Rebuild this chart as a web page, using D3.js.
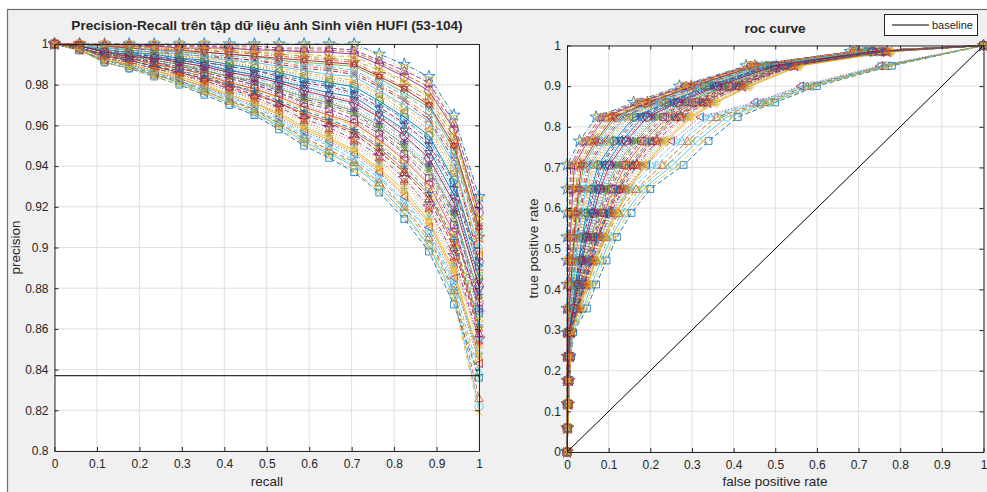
<!DOCTYPE html>
<html>
<head>
<meta charset="utf-8">
<script src="https://cdn.jsdelivr.net/npm/d3@7"></script>
<style>
  body { margin: 0; background: #ffffff; }
  svg { display: block; }
  text { font-family: "Liberation Sans", Arial, Helvetica, sans-serif; fill: #262626; }
</style>
</head>
<body>
<svg id="fig" width="987" height="492"></svg>
<script>
// Recall levels shared by every precision-recall curve (k / 17)
const recallLevels = [0, 0.059, 0.118, 0.176, 0.235, 0.294, 0.353, 0.412, 0.471, 0.529, 0.588, 0.647, 0.706, 0.765, 0.824, 0.882, 0.941, 1];

// Precision per class (classes 53..104), one row per class, aligned with recallLevels
const precision = [
  [1,.999,.997,.996,.995,.993,.992,.990,.988,.986,.983,.981,.979,.972,.964,.955,.933,.893],
  [1,1,.999,.999,.999,.999,.999,.998,.998,.997,.997,.997,.996,.991,.985,.979,.959,.912],
  [1,.998,.993,.991,.988,.984,.981,.977,.973,.967,.961,.956,.951,.942,.931,.917,.892,.851],
  [1,.998,.995,.994,.991,.989,.987,.984,.981,.977,.973,.970,.966,.958,.949,.938,.915,.874],
  [1,.999,.998,.998,.997,.996,.996,.995,.994,.992,.991,.990,.989,.983,.976,.969,.948,.908],
  [1,.997,.992,.989,.986,.982,.978,.973,.968,.962,.955,.950,.943,.934,.922,.907,.881,.839],
  [1,.999,.996,.995,.993,.991,.989,.987,.985,.982,.978,.975,.972,.965,.957,.946,.924,.883],
  [1,1,1,1,1,1,1,1,1,1,1,1,1,.995,.990,.984,.965,.925],
  [1,.998,.994,.992,.989,.986,.983,.980,.976,.971,.966,.962,.957,.949,.938,.926,.902,.860],
  [1,.999,.997,.997,.996,.994,.993,.992,.990,.988,.986,.984,.982,.976,.969,.960,.939,.898],
  [1,.998,.995,.993,.990,.988,.985,.982,.979,.975,.970,.966,.962,.954,.944,.932,.909,.868],
  [1,1,.999,.999,.998,.998,.997,.996,.996,.995,.994,.993,.992,.987,.981,.974,.954,.914],
  [1,.997,.991,.988,.985,.981,.976,.971,.966,.960,.952,.946,.940,.930,.917,.901,.876,.822],
  [1,.999,.997,.995,.994,.992,.991,.989,.987,.984,.981,.979,.976,.969,.961,.951,.930,.889],
  [1,.998,.995,.993,.991,.989,.987,.984,.981,.978,.974,.971,.967,.959,.951,.940,.917,.870],
  [1,.999,.998,.997,.996,.996,.995,.993,.992,.991,.989,.988,.986,.980,.973,.965,.945,.904],
  [1,.997,.992,.990,.987,.983,.979,.975,.971,.965,.958,.953,.947,.938,.926,.912,.887,.845],
  [1,1,1,1,.999,.999,.999,.999,.999,.998,.998,.998,.997,.992,.987,.981,.961,.921],
  [1,.998,.994,.991,.988,.986,.982,.978,.975,.970,.964,.960,.955,.946,.935,.922,.898,.866],
  [1,.999,.996,.994,.992,.990,.988,.986,.983,.980,.976,.973,.970,.962,.954,.943,.920,.868],
  [1,1,.999,.998,.997,.997,.996,.995,.994,.993,.992,.991,.990,.984,.978,.970,.950,.910],
  [1,.997,.991,.988,.984,.980,.975,.970,.965,.958,.950,.944,.937,.927,.914,.898,.872,.836],
  [1,.999,.997,.996,.995,.994,.993,.991,.989,.987,.985,.983,.981,.975,.967,.958,.937,.896],
  [1,.998,.994,.992,.990,.987,.984,.981,.978,.973,.968,.964,.960,.951,.941,.929,.905,.864],
  [1,1,.999,.999,.999,.998,.998,.998,.997,.997,.996,.996,.995,.990,.984,.977,.958,.917],
  [1,.998,.995,.993,.991,.989,.986,.983,.980,.976,.972,.969,.965,.957,.947,.936,.913,.861],
  [1,.998,.993,.990,.987,.984,.980,.976,.972,.966,.960,.955,.950,.941,.929,.915,.891,.855],
  [1,.999,.998,.997,.996,.995,.994,.993,.992,.990,.988,.987,.985,.979,.972,.963,.943,.893],
  [1,.999,.996,.995,.993,.992,.990,.987,.985,.982,.979,.976,.974,.966,.958,.948,.926,.885],
  [1,.997,.992,.989,.985,.982,.977,.972,.968,.961,.954,.948,.942,.932,.920,.905,.879,.826],
  [1,1,1,1,1,1,1,.999,.999,.999,.999,.999,.999,.994,.988,.982,.963,.923],
  [1,.998,.993,.991,.988,.985,.982,.978,.974,.969,.963,.959,.953,.945,.934,.920,.896,.855],
  [1,.998,.995,.994,.992,.990,.987,.984,.982,.978,.974,.971,.967,.960,.950,.939,.917,.876],
  [1,.999,.998,.998,.997,.996,.995,.994,.993,.992,.990,.989,.987,.981,.975,.967,.946,.906],
  [1,.997,.992,.990,.986,.983,.979,.974,.970,.964,.957,.952,.946,.937,.925,.910,.885,.843],
  [1,.999,.997,.996,.994,.993,.991,.989,.987,.985,.982,.980,.977,.971,.963,.953,.932,.891],
  [1,.998,.994,.993,.990,.988,.985,.981,.978,.974,.969,.965,.961,.953,.943,.931,.907,.873],
  [1,1,.999,.999,.998,.998,.998,.997,.996,.996,.995,.994,.994,.988,.982,.975,.956,.915],
  [1,.998,.995,.994,.992,.990,.988,.985,.982,.979,.975,.972,.968,.961,.952,.941,.918,.877],
  [1,.997,.992,.989,.985,.981,.977,.972,.967,.961,.953,.947,.941,.931,.919,.903,.878,.836],
  [1,.999,.998,.997,.996,.995,.994,.992,.991,.989,.987,.985,.984,.977,.970,.962,.941,.900],
  [1,.998,.994,.992,.989,.986,.983,.979,.975,.971,.965,.961,.956,.947,.937,.924,.900,.858],
  [1,.999,.996,.995,.994,.992,.990,.988,.986,.983,.980,.978,.975,.968,.960,.950,.928,.879],
  [1,1,.999,.998,.998,.997,.997,.996,.995,.994,.993,.992,.991,.985,.979,.972,.952,.905],
  [1,.998,.993,.990,.987,.984,.980,.975,.971,.966,.959,.954,.948,.939,.928,.913,.889,.847],
  [1,.998,.995,.993,.991,.988,.986,.983,.980,.976,.971,.968,.963,.956,.946,.934,.911,.870],
  [1,.999,.997,.996,.995,.994,.992,.990,.989,.987,.984,.982,.980,.973,.966,.956,.935,.886],
  [1,.997,.992,.989,.986,.982,.978,.974,.969,.963,.956,.951,.945,.935,.923,.908,.883,.848],
  [1,.999,.996,.994,.993,.991,.989,.986,.984,.981,.977,.974,.971,.964,.955,.944,.922,.881],
  [1,.998,.994,.992,.989,.987,.984,.980,.977,.972,.967,.963,.958,.950,.940,.927,.904,.862],
  [1,.998,.993,.991,.988,.985,.981,.977,.973,.968,.962,.957,.952,.943,.932,.919,.894,.853],
  [1,.997,.991,.988,.984,.980,.976,.971,.966,.959,.951,.945,.938,.928,.916,.900,.874,.819]
];

// True positive rate levels at which the ROC points were taken
const tprLevels = [0, 0.059, 0.118, 0.176, 0.235, 0.294, 0.353, 0.412, 0.471, 0.529, 0.588, 0.647, 0.706, 0.765, 0.824, 0.86, 0.9, 0.95, 0.985, 1];

// False positive rate per class at each level (null = no point at that level)
const fpr = [
  [0,.001,.002,.002,.003,.004,.012,.020,.028,.036,.047,.059,.075,.113,.161,.239,.337,.481,.720,1],
  [0,0,0,0,.001,.001,.002,.004,.005,.006,.008,.011,.013,.045,.086,.174,.282,.439,.687,1],
  [0,.002,.004,.006,.007,.009,.028,.047,.065,.084,.112,.140,.177,.225,.284,.346,.428,.551,.773,1],
  [0,.001,.003,.004,.005,.007,.020,.033,.046,.059,.078,.098,.124,.167,.220,.290,.381,.515,.745,1],
  [0,0,.001,.001,.002,.002,.006,.010,.015,.019,.025,.031,.040,.074,.118,.202,.306,.457,.701,1],
  [0,.001,.003,.005,.007,.010,.024,.041,.063,.088,.116,.157,.216,.276,.346,.464,.571,.759,null,1],
  [0,.001,.002,.003,.004,.005,.015,.026,.036,.046,.061,.077,.097,.138,.188,.262,.357,.497,.731,1],
  [0,0,0,0,0,0,0,0,0,0,0,0,0,.030,.070,.160,.270,.430,.680,1],
  [0,.002,.003,.005,.007,.008,.024,.041,.057,.073,.098,.122,.155,.201,.257,.323,.408,.536,.761,1],
  [0,.001,.001,.002,.003,.003,.010,.016,.023,.029,.039,.049,.062,.098,.145,.225,.325,.472,.713,1],
  [0,.001,.003,.004,.006,.007,.022,.036,.050,.065,.087,.108,.137,.181,.236,.304,.393,.524,.752,1],
  [0,0,.001,.001,.001,.001,.004,.007,.010,.013,.017,.021,.027,.059,.102,.188,.294,.448,.694,1],
  [0,.001,.003,.005,.009,.013,.039,.059,.082,.107,.139,.183,.254,.314,.384,.486,.589,.771,null,1],
  [0,.001,.002,.003,.004,.004,.013,.022,.031,.040,.053,.066,.084,.123,.172,.248,.345,.487,.724,1],
  [0,.001,.002,.004,.005,.006,.018,.030,.042,.054,.073,.091,.115,.157,.209,.281,.373,.509,.741,1],
  [0,.001,.001,.002,.002,.003,.008,.013,.018,.023,.031,.038,.049,.084,.129,.211,.314,.463,.706,1],
  [0,.002,.004,.006,.008,.010,.030,.050,.070,.090,.120,.150,.190,.240,.300,.360,.440,.560,.780,1],
  [0,0,0,0,0,0,.001,.002,.003,.004,.006,.007,.009,.040,.081,.169,.278,.436,.685,1],
  [0,.002,.003,.005,.007,.009,.026,.043,.060,.077,.103,.129,.163,.211,.268,.332,.416,.542,.766,1],
  [0,.001,.002,.003,.004,.006,.017,.028,.039,.050,.067,.084,.106,.147,.198,.272,.365,.503,.736,1],
  [0,0,.001,.001,.001,.002,.006,.009,.013,.017,.022,.028,.035,.069,.113,.197,.302,.454,.699,1],
  [0,.002,.004,.006,.010,.015,.048,.070,.095,.120,.155,.200,.280,.340,.410,.500,.600,.780,null,1],
  [0,.001,.001,.002,.003,.003,.010,.017,.024,.031,.042,.052,.066,.103,.150,.230,.329,.475,.715,1],
  [0,.002,.003,.005,.006,.008,.023,.038,.054,.069,.092,.115,.146,.191,.246,.313,.400,.530,.757,1],
  [0,0,0,.001,.001,.001,.003,.005,.007,.008,.011,.014,.018,.050,.091,.179,.286,.442,.689,1],
  [0,.001,.003,.004,.005,.007,.020,.034,.047,.061,.081,.101,.128,.172,.225,.295,.385,.518,.747,1],
  [0,.002,.004,.006,.008,.010,.029,.048,.067,.086,.114,.143,.181,.230,.289,.351,.432,.554,.775,1],
  [0,.001,.001,.002,.002,.003,.008,.014,.020,.025,.033,.042,.053,.089,.134,.216,.317,.466,.708,1],
  [0,.001,.002,.003,.004,.005,.015,.024,.034,.044,.059,.073,.093,.132,.182,.258,.353,.493,.729,1],
  [0,.001,.003,.005,.008,.011,.029,.047,.069,.094,.124,.166,.229,.289,.359,.471,.577,.763,null,1],
  [0,0,0,0,0,0,.001,.001,.002,.002,.003,.003,.004,.035,.075,.165,.274,.433,.682,1],
  [0,.002,.004,.005,.007,.009,.027,.044,.062,.080,.106,.133,.168,.216,.273,.337,.420,.545,.768,1],
  [0,.001,.003,.004,.005,.006,.019,.031,.044,.057,.075,.094,.119,.162,.214,.286,.377,.512,.743,1],
  [0,0,.001,.001,.002,.002,.007,.012,.016,.021,.028,.035,.044,.079,.124,.207,.310,.460,.703,1],
  [0,0,.002,.004,.006,.008,.015,.030,.050,.075,.100,.140,.190,.250,.320,.450,.560,.750,null,1],
  [0,.001,.002,.003,.003,.004,.013,.021,.029,.038,.050,.063,.080,.118,.166,.244,.341,.484,.722,1],
  [0,.001,.003,.004,.006,.007,.022,.037,.052,.067,.089,.112,.141,.186,.241,.309,.396,.527,.754,1],
  [0,0,0,.001,.001,.001,.003,.006,.008,.010,.014,.017,.022,.054,.097,.183,.290,.445,.692,1],
  [0,.001,.002,.003,.005,.006,.017,.029,.041,.052,.070,.087,.110,.152,.204,.276,.369,.506,.738,1],
  [0,.001,.003,.005,.008,.012,.034,.053,.076,.101,.131,.174,.241,.301,.371,.479,.583,.767,null,1],
  [0,.001,.001,.002,.002,.003,.009,.015,.021,.027,.036,.045,.057,.093,.139,.220,.321,.469,.710,1],
  [0,.002,.003,.005,.007,.008,.025,.042,.059,.075,.100,.126,.159,.206,.263,.327,.412,.539,.764,1],
  [0,.001,.002,.003,.004,.005,.014,.023,.033,.042,.056,.070,.088,.128,.177,.253,.349,.490,.727,1],
  [0,0,.001,.001,.001,.002,.005,.008,.011,.015,.020,.024,.031,.064,.107,.193,.298,.451,.696,1],
  [0,.002,.004,.006,.008,.010,.029,.049,.068,.088,.117,.147,.186,.235,.295,.355,.436,.557,.778,1],
  [0,.001,.003,.004,.006,.007,.021,.035,.049,.063,.084,.105,.133,.177,.231,.300,.389,.521,.750,1],
  [0,.001,.001,.002,.003,.004,.011,.019,.026,.033,.045,.056,.071,.108,.156,.234,.333,.478,.717,1],
  [0,0,.002,.004,.007,.009,.020,.036,.056,.081,.108,.149,.203,.263,.333,.457,.566,.754,null,1],
  [0,.001,.002,.003,.004,.005,.016,.027,.037,.048,.064,.080,.102,.142,.193,.267,.361,.500,.734,1],
  [0,.002,.003,.005,.006,.008,.024,.040,.055,.071,.095,.119,.150,.196,.252,.318,.404,.533,.759,1],
  [0,.002,.004,.005,.007,.009,.027,.045,.063,.082,.109,.136,.172,.220,.279,.341,.424,.548,.771,1],
  [0,.002,.004,.006,.009,.014,.043,.064,.089,.114,.147,.191,.267,.327,.397,.493,.594,.776,null,1]
];

// Positive ratio drawn as the precision-recall baseline
const prBaseline = 0.837;

// Tick values
const unitTicks = [0, 0.1, 0.2, 0.3, 0.4, 0.5, 0.6, 0.7, 0.8, 0.9, 1];
const precisionTicks = [0.8, 0.82, 0.84, 0.86, 0.88, 0.9, 0.92, 0.94, 0.96, 0.98, 1];

// Default line colours, markers and line styles cycled over the classes
const palette = ["#0072BD", "#D95319", "#EDB120", "#7E2F8E", "#77AC30", "#4DBEEE", "#A2142F"];
const markerKinds = ["o", "+", "*", "x", "d", "^", "v", "p", "h", "s", "<", ">"];
const dashKinds = [null, "5,2.5", "1,2", "5,2,1,2"];

const svg = d3.select("#fig");
const ink = "#262626";

// Figure window background and frame
svg.append("rect").attr("x", 7.5).attr("y", 9.5).attr("width", 1000).attr("height", 500)
  .attr("fill", "#f0f0f0").attr("stroke", "#6e6e6e").attr("stroke-width", 1.2);

function markerPath(kind, s) {
  const c = 0.866;
  switch (kind) {
    case "o": return `M${s},0A${s},${s} 0 1,1 ${-s},0A${s},${s} 0 1,1 ${s},0Z`;
    case "+": return `M${-s},0H${s}M0,${-s}V${s}`;
    case "x": { const a = s * 0.75; return `M${-a},${-a}L${a},${a}M${-a},${a}L${a},${-a}`; }
    case "*": { const a = s * 0.72; return `M${-s},0H${s}M0,${-s}V${s}M${-a},${-a}L${a},${a}M${-a},${a}L${a},${-a}`; }
    case "s": { const a = s * 0.8; return `M${-a},${-a}H${a}V${a}H${-a}Z`; }
    case "d": return `M0,${-s * 1.2}L${s * 0.85},0L0,${s * 1.2}L${-s * 0.85},0Z`;
    case "^": return `M0,${-s}L${s},${s * 0.8}L${-s},${s * 0.8}Z`;
    case "v": return `M0,${s}L${s},${-s * 0.8}L${-s},${-s * 0.8}Z`;
    case ">": return `M${s},0L${-s * 0.8},${-s}L${-s * 0.8},${s}Z`;
    case "<": return `M${-s},0L${s * 0.8},${-s}L${s * 0.8},${s}Z`;
    case "p": return d3.symbol(d3.symbolStar, s * s * 2.6)();
    case "h": return `M0,${-s}L${s * c},${s * 0.5}L${-s * c},${s * 0.5}ZM0,${s}L${s * c},${-s * 0.5}L${-s * c},${-s * 0.5}Z`;
  }
  return "";
}

// White plotting area with light grid lines
function drawAxes(x, y, xTicks, yTicks) {
  const [x0, x1] = x.range();
  const [y0, y1] = y.range(); // y0 bottom, y1 top
  const g = svg.append("g");
  g.append("rect").attr("x", x0).attr("y", y1).attr("width", x1 - x0).attr("height", y0 - y1).attr("fill", "#ffffff");
  g.selectAll(".gx").data(xTicks).join("line")
    .attr("x1", d => x(d)).attr("x2", d => x(d)).attr("y1", y0).attr("y2", y1)
    .attr("stroke", "#dfdfdf").attr("stroke-width", 1);
  g.selectAll(".gy").data(yTicks).join("line")
    .attr("y1", d => y(d)).attr("y2", d => y(d)).attr("x1", x0).attr("x2", x1)
    .attr("stroke", "#dfdfdf").attr("stroke-width", 1);
  return g;
}

// Box with inward ticks on all four sides and tick labels on the left and bottom
function finishAxes(x, y, xTicks, yTicks, fmt) {
  const [x0, x1] = x.range();
  const [y0, y1] = y.range();
  const g = svg.append("g");
  const tl = 4;
  const bottom = g.append("g").attr("transform", `translate(0,${y0})`)
    .call(d3.axisBottom(x).tickValues(xTicks).tickFormat(fmt).tickSizeInner(-tl).tickSizeOuter(0).tickPadding(8));
  const left = g.append("g").attr("transform", `translate(${x0},0)`)
    .call(d3.axisLeft(y).tickValues(yTicks).tickFormat(fmt).tickSizeInner(-tl).tickSizeOuter(0).tickPadding(6));
  const top = g.append("g").attr("transform", `translate(0,${y1})`)
    .call(d3.axisTop(x).tickValues(xTicks).tickFormat("").tickSizeInner(-tl).tickSizeOuter(0));
  const right = g.append("g").attr("transform", `translate(${x1},0)`)
    .call(d3.axisRight(y).tickValues(yTicks).tickFormat("").tickSizeInner(-tl).tickSizeOuter(0));
  [bottom, left, top, right].forEach(a => {
    a.select(".domain").attr("stroke", ink).attr("stroke-width", 1);
    a.selectAll(".tick line").attr("stroke", ink).attr("stroke-width", 1);
    a.selectAll("text").attr("font-size", 12).attr("fill", ink)
      .style("font-family", '"Liberation Sans", Arial, sans-serif');
  });
}

const fmt = d => String(+d.toFixed(2));

function drawCurve(pts, x, y, i) {
  const color = palette[i % palette.length];
  const dash = dashKinds[i % dashKinds.length];
  const mk = markerKinds[i % markerKinds.length];
  const line = d3.line().x(d => x(d[0])).y(d => y(d[1]));
  const g = svg.append("g");
  g.append("path").attr("d", line(pts)).attr("fill", "none")
    .attr("stroke", color).attr("stroke-width", 0.9)
    .attr("stroke-dasharray", dash);
  const mp = markerPath(mk, 4.2);
  g.selectAll("path.m").data(pts).join("path").attr("class", "m")
    .attr("transform", d => `translate(${x(d[0])},${y(d[1])})`)
    .attr("d", mp).attr("fill", "none").attr("stroke", color).attr("stroke-width", 0.8);
}

// ---------- Precision-recall panel ----------
const xPR = d3.scaleLinear().domain([0, 1]).range([54.5, 479]);
const yPR = d3.scaleLinear().domain([0.8, 1]).range([451, 44]);
drawAxes(xPR, yPR, unitTicks, precisionTicks);
precision.forEach((row, i) => {
  const pts = recallLevels.map((r, k) => [r, row[k]]);
  drawCurve(pts, xPR, yPR, i);
});
svg.append("line").attr("x1", xPR(0)).attr("x2", xPR(1))
  .attr("y1", yPR(prBaseline)).attr("y2", yPR(prBaseline))
  .attr("stroke", "#000").attr("stroke-width", 1);
finishAxes(xPR, yPR, unitTicks, precisionTicks, fmt);

svg.append("text").attr("x", 267).attr("y", 29.5).attr("text-anchor", "middle")
  .attr("font-size", 13.6).attr("font-weight", "bold").attr("fill", "#000")
  .text("Precision-Recall trên tập dữ liệu ảnh Sinh viên HUFI (53-104)");
svg.append("text").attr("x", 267).attr("y", 486).attr("text-anchor", "middle")
  .attr("font-size", 13.5).text("recall");
svg.append("text").attr("transform", "translate(20,247.5) rotate(-90)").attr("text-anchor", "middle")
  .attr("font-size", 13.5).text("precision");

// ---------- ROC panel ----------
const xROC = d3.scaleLinear().domain([0, 1]).range([567, 983.5]);
const yROC = d3.scaleLinear().domain([0, 1]).range([452, 45.5]);
drawAxes(xROC, yROC, unitTicks, unitTicks);
fpr.forEach((row, i) => {
  const pts = tprLevels.map((t, k) => [row[k], t]).filter(p => p[0] !== null);
  drawCurve(pts, xROC, yROC, i);
});
svg.append("line").attr("x1", xROC(0)).attr("y1", yROC(0)).attr("x2", xROC(1)).attr("y2", yROC(1))
  .attr("stroke", "#000").attr("stroke-width", 1);
finishAxes(xROC, yROC, unitTicks, unitTicks, fmt);

svg.append("text").attr("x", 775).attr("y", 33).attr("text-anchor", "middle")
  .attr("font-size", 13.6).attr("font-weight", "bold").attr("fill", "#000").text("roc curve");
svg.append("text").attr("x", 775).attr("y", 486).attr("text-anchor", "middle")
  .attr("font-size", 13.5).text("false positive rate");
svg.append("text").attr("transform", "translate(538,248.5) rotate(-90)").attr("text-anchor", "middle")
  .attr("font-size", 13.5).text("true positive rate");

// Legend
const lg = svg.append("g");
lg.append("rect").attr("x", 884.5).attr("y", 14.5).attr("width", 93).attr("height", 21)
  .attr("fill", "#fff").attr("stroke", ink).attr("stroke-width", 1);
lg.append("line").attr("x1", 892).attr("x2", 929).attr("y1", 25).attr("y2", 25)
  .attr("stroke", "#000").attr("stroke-width", 1);
lg.append("text").attr("x", 932).attr("y", 29).attr("font-size", 11).attr("fill", "#000").text("baseline");
</script>
</body>
</html>
